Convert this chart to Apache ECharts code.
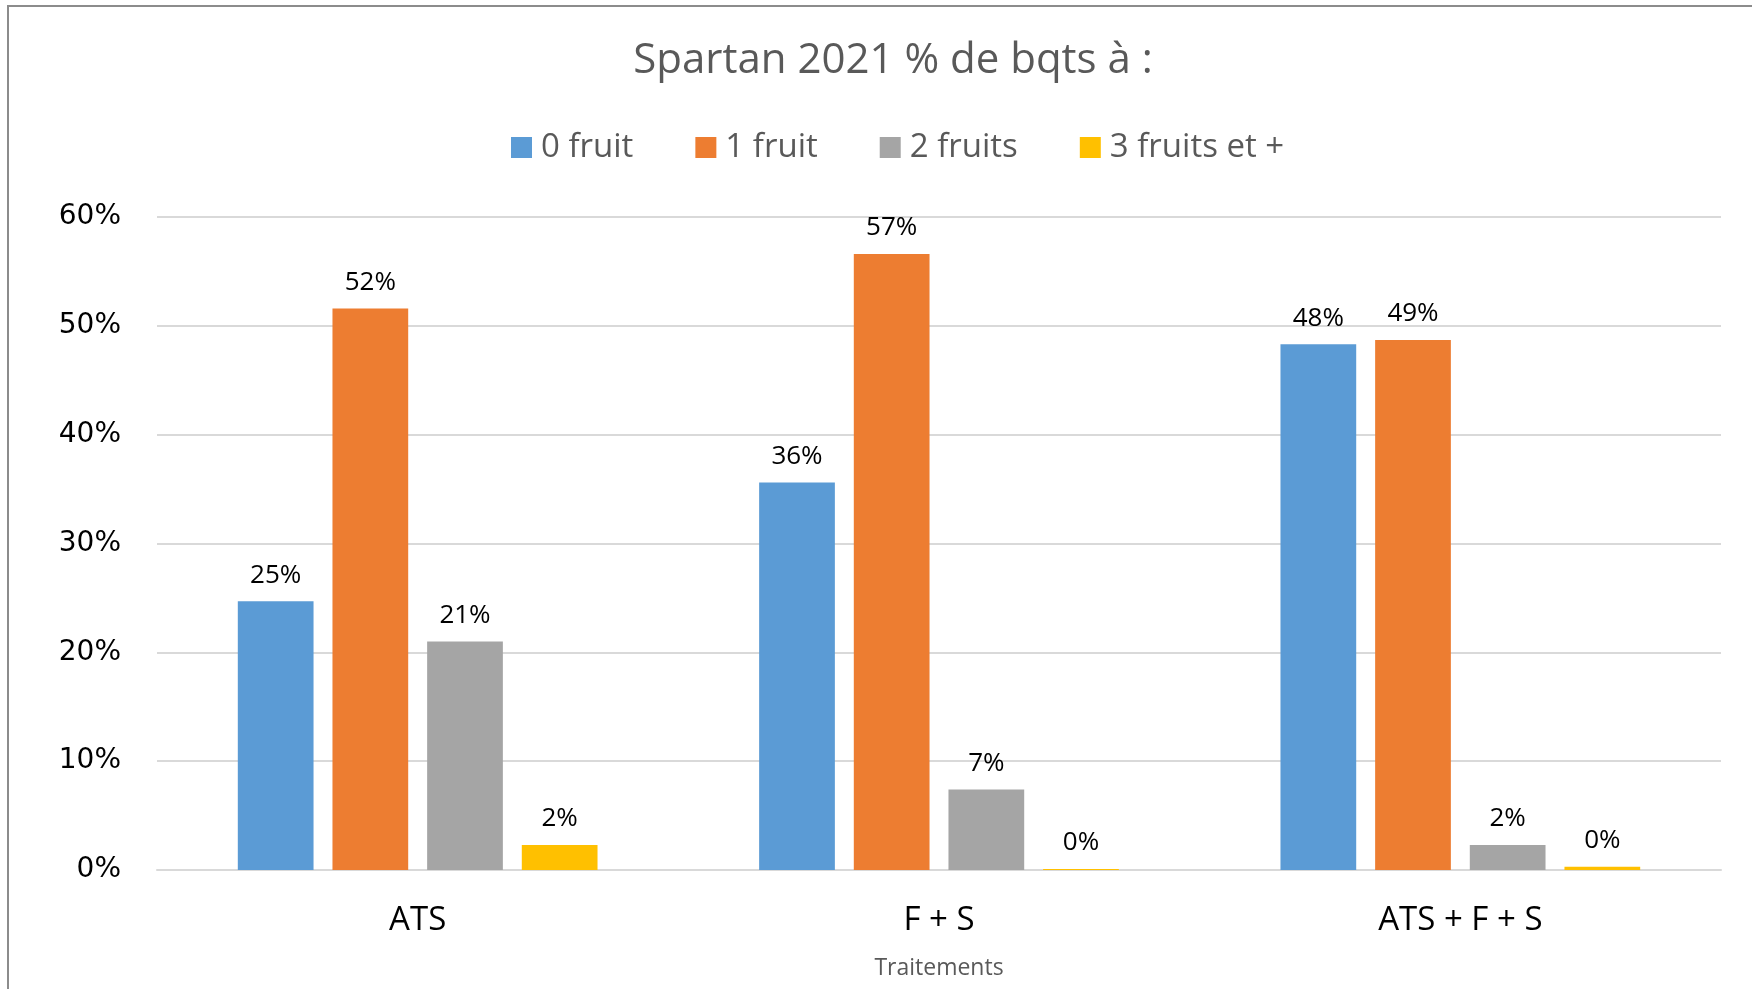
<!DOCTYPE html>
<html>
<head>
<meta charset="utf-8">
<script src="https://cdn.jsdelivr.net/npm/echarts@6/dist/echarts.min.js"></script>
<style>
html,body{margin:0;padding:0;background:#fff;}
#chart{width:1752px;height:989px;}
</style>
</head>
<body>
<div id="chart"></div>
<script>
const titleText = 'Spartan 2021 % de bqts à :';
const categories = ['ATS', 'F + S', 'ATS + F + S'];
const seriesNames = ['0 fruit', '1 fruit', '2 fruits', '3 fruits et +'];
const fruit0 = [0.247, 0.356, 0.483];
const fruit1 = [0.516, 0.566, 0.487];
const fruit2 = [0.210, 0.074, 0.023];
const fruit3 = [0.023, 0.001, 0.003];
const yTicks = [0, 0.1, 0.2, 0.3, 0.4, 0.5, 0.6];
const axisName = 'Traitements';
const colors = ['#5B9BD5', '#ED7D31', '#A5A5A5', '#FFC000'];

const seriesData = [fruit0, fruit1, fruit2, fruit3];
const chart = echarts.init(document.getElementById('chart'), null, {renderer: 'canvas'});
const pctFmt = v => Math.round(v * 100) + '%';

chart.setOption({
  animation: false,
  color: colors,
  title: {
    text: titleText,
    left: 888, top: 56,
    textAlign: 'center', textVerticalAlign: 'middle',
    textStyle: {fontFamily: 'Open Sans', fontSize: 42, fontWeight: 'normal', color: '#595959'}
  },
  legend: {
    data: seriesNames,
    left: 506, top: 126,
    itemWidth: 21, itemHeight: 21, itemGap: 62,
    icon: 'rect',
    textStyle: {fontFamily: 'Open Sans', fontSize: 33, color: '#595959', padding: [0,0,0,4]}
  },
  graphic: [{
    type: 'rect', silent: true,
    shape: {x: 8, y: 6, width: 1800, height: 1000},
    style: {fill: 'none', stroke: '#8c8c8c', lineWidth: 2}
  }],
  grid: {left: 157, right: 31, top: 217, bottom: 119, containLabel: false},
  xAxis: {
    type: 'category',
    data: categories,
    axisLine: {show: true, lineStyle: {color: '#d9d9d9', width: 2}},
    axisTick: {show: false},
    axisLabel: {fontFamily: 'Open Sans', fontSize: 33, color: '#000', margin: 34},
    name: axisName,
    nameLocation: 'middle',
    nameGap: 87,
    nameTextStyle: {fontFamily: 'Open Sans', fontSize: 23, color: '#595959'}
  },
  yAxis: {
    type: 'value',
    min: yTicks[0], max: yTicks[yTicks.length - 1], interval: 0.1,
    axisLine: {show: false},
    axisTick: {show: false},
    splitLine: {lineStyle: {color: '#d9d9d9', width: 2}},
    axisLabel: {fontFamily: 'DejaVu Sans', fontSize: 28, color: '#000', margin: 36, formatter: pctFmt}
  },
  series: seriesNames.map((name, i) => ({
    name: name,
    type: 'bar',
    data: seriesData[i],
    barGap: '25%',
    barCategoryGap: '31%',
    itemStyle: {color: colors[i]},
    label: {
      show: true, position: 'top', distance: 13,
      fontFamily: 'Open Sans', fontSize: 26, color: '#000',
      formatter: p => pctFmt(p.value)
    }
  }))
});
</script>
</body>
</html>
